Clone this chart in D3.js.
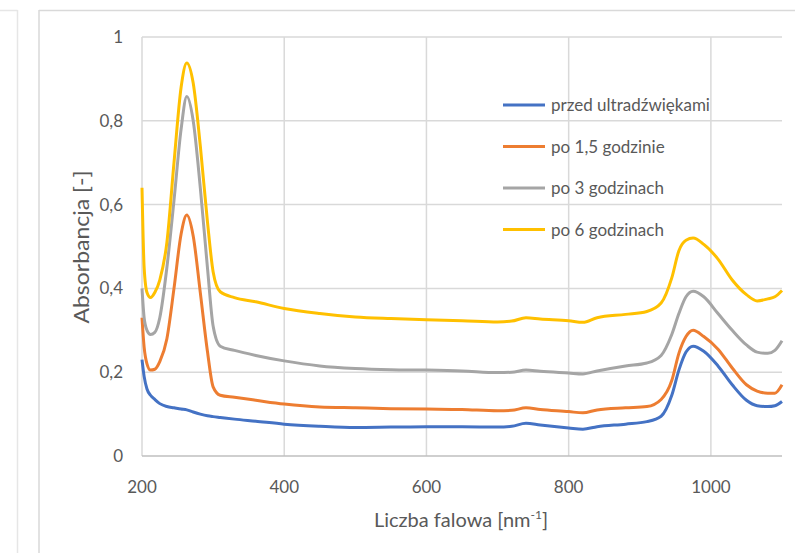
<!DOCTYPE html>
<html>
<head>
<meta charset="utf-8">
<script src="https://cdn.jsdelivr.net/npm/d3@7"></script>
<style>
  body { margin: 0; background: #fff; }
  text { font-family: Lato, "Noto Sans", sans-serif; fill: #595959; }
</style>
</head>
<body>
<script>
// wavenumber values shared by every series
var wave = [200, 203, 207, 212, 218, 225, 235, 245, 255, 263, 272, 282, 292, 300, 310, 330, 360, 400, 450, 500,
            550, 600, 650, 700, 720, 740, 760, 800, 820, 840, 880, 910, 930, 945, 955, 965, 975, 990, 1010, 1030,
            1050, 1065, 1080, 1090, 1100];

var przed = [0.23, 0.19, 0.16, 0.145, 0.135, 0.125, 0.118, 0.115, 0.112, 0.11, 0.105, 0.10, 0.096, 0.094, 0.092, 0.088, 0.083, 0.076, 0.071, 0.068,
             0.069, 0.07, 0.07, 0.069, 0.071, 0.078, 0.074, 0.067, 0.064, 0.070, 0.076, 0.082, 0.095, 0.145, 0.205, 0.248, 0.262, 0.25, 0.215, 0.17,
             0.133, 0.12, 0.118, 0.12, 0.13];
var po15 = [0.33, 0.26, 0.22, 0.205, 0.207, 0.225, 0.28, 0.40, 0.53, 0.575, 0.525, 0.39, 0.25, 0.165, 0.145, 0.14, 0.133, 0.124, 0.117, 0.115,
            0.113, 0.112, 0.111, 0.108, 0.109, 0.115, 0.111, 0.106, 0.103, 0.110, 0.115, 0.118, 0.135, 0.18, 0.245, 0.285, 0.30, 0.285, 0.255, 0.21,
            0.17, 0.155, 0.15, 0.15, 0.17];
var po3 = [0.40, 0.33, 0.30, 0.29, 0.295, 0.33, 0.45, 0.61, 0.78, 0.858, 0.80, 0.64, 0.45, 0.31, 0.262, 0.252, 0.24, 0.227, 0.215, 0.209,
           0.206, 0.205, 0.203, 0.199, 0.200, 0.205, 0.202, 0.198, 0.196, 0.203, 0.215, 0.222, 0.24, 0.29, 0.34, 0.38, 0.393, 0.38, 0.34, 0.30,
           0.265, 0.248, 0.245, 0.252, 0.275];
var po6 = [0.64, 0.45, 0.39, 0.378, 0.39, 0.42, 0.51, 0.70, 0.88, 0.938, 0.89, 0.74, 0.56, 0.44, 0.392, 0.378, 0.368, 0.352, 0.34, 0.332,
           0.328, 0.325, 0.323, 0.320, 0.322, 0.330, 0.327, 0.323, 0.319, 0.330, 0.338, 0.345, 0.365, 0.425, 0.49, 0.515, 0.52, 0.505, 0.47, 0.42,
           0.385, 0.37, 0.375, 0.38, 0.395];

var names = ["przed ultradźwiękami", "po 1,5 godzinie", "po 3 godzinach", "po 6 godzinach"];
var colors = ["#4472C4", "#ED7D31", "#A5A5A5", "#FFC000"];
var xTicks = [200, 400, 600, 800, 1000];
var yTicks = [0, 0.2, 0.4, 0.6, 0.8, 1];

var W = 795, H = 553;
var margin = {top: 37, right: 13, bottom: 97, left: 142},
    width = W - margin.left - margin.right,
    height = H - margin.top - margin.bottom;

var x = d3.scaleLinear().domain([200, 1100]).range([0, width]);
var y = d3.scaleLinear().domain([0, 1]).range([height, 0]);

var svg = d3.select("body").append("svg")
    .attr("width", W)
    .attr("height", H);

// frame lines of the chart area / neighbouring panel
svg.append("line").attr("x1", 17.5).attr("x2", 17.5).attr("y1", 10).attr("y2", H)
    .attr("stroke", "#e6e6e6").attr("stroke-width", 1.5);
svg.append("line").attr("x1", 0).attr("x2", 17.5).attr("y1", 10.5).attr("y2", 10.5)
    .attr("stroke", "#e6e6e6").attr("stroke-width", 1.5);
svg.append("line").attr("x1", 39).attr("x2", 39).attr("y1", 10).attr("y2", H)
    .attr("stroke", "#d9d9d9").attr("stroke-width", 1.5);
svg.append("line").attr("x1", 39).attr("x2", W).attr("y1", 10.5).attr("y2", 10.5)
    .attr("stroke", "#d9d9d9").attr("stroke-width", 1.5);

var g = svg.append("g")
    .attr("transform", "translate(" + margin.left + "," + margin.top + ")");

// gridlines
g.selectAll(".hgrid")
    .data(yTicks.filter(function(d) { return d > 0; }))
  .enter().append("line")
    .attr("x1", 0).attr("x2", width)
    .attr("y1", function(d) { return y(d); })
    .attr("y2", function(d) { return y(d); })
    .attr("stroke", "#d9d9d9").attr("stroke-width", 1.5);
g.selectAll(".vgrid")
    .data(xTicks)
  .enter().append("line")
    .attr("x1", function(d) { return x(d); })
    .attr("x2", function(d) { return x(d); })
    .attr("y1", 0).attr("y2", height)
    .attr("stroke", "#d9d9d9").attr("stroke-width", 1.5);

// x axis baseline
g.append("line").attr("x1", 0).attr("x2", width).attr("y1", height).attr("y2", height)
    .attr("stroke", "#bfbfbf").attr("stroke-width", 1.5);

// tick labels
g.selectAll(".xlab")
    .data(xTicks)
  .enter().append("text")
    .attr("x", function(d) { return x(d); })
    .attr("y", height + 37)
    .attr("text-anchor", "middle")
    .style("font-size", "17px")
    .text(function(d) { return d; });
g.selectAll(".ylab")
    .data(yTicks)
  .enter().append("text")
    .attr("x", -19)
    .attr("y", function(d) { return y(d) + 6; })
    .attr("text-anchor", "end")
    .style("font-size", "17px")
    .text(function(d) { return String(d).replace(".", ","); });

// series
var series = [przed, po15, po3, po6];
var line = d3.line()
    .x(function(d, i) { return x(wave[i]); })
    .y(function(d) { return y(d); })
    .curve(d3.curveMonotoneX);

series.forEach(function(s, k) {
  g.append("path")
      .datum(s)
      .attr("fill", "none")
      .attr("stroke", colors[k])
      .attr("stroke-width", 3)
      .attr("stroke-linejoin", "round")
      .attr("d", line);
});

// legend
var legend = svg.append("g").attr("transform", "translate(503,105)");
names.forEach(function(n, k) {
  var row = legend.append("g").attr("transform", "translate(0," + (k * 41.5) + ")");
  row.append("line").attr("x1", 0).attr("x2", 42).attr("y1", 0).attr("y2", 0)
      .attr("stroke", colors[k]).attr("stroke-width", 3);
  row.append("text").attr("x", 48).attr("y", 6)
      .style("font-size", "17px")
      .text(n);
});

// axis titles
var xt = svg.append("text")
    .attr("x", 461).attr("y", 527)
    .attr("text-anchor", "middle")
    .style("font-size", "20px");
xt.append("tspan").text("Liczba falowa [nm");
xt.append("tspan").attr("dy", -8).style("font-size", "12px").text("-1");
xt.append("tspan").attr("dy", 8).text("]");

svg.append("text")
    .attr("transform", "translate(89,247) rotate(-90)")
    .attr("text-anchor", "middle")
    .attr("textLength", 153)
    .attr("lengthAdjust", "spacingAndGlyphs")
    .style("font-size", "21px")
    .text("Absorbancja [-]");
</script>
</body>
</html>
